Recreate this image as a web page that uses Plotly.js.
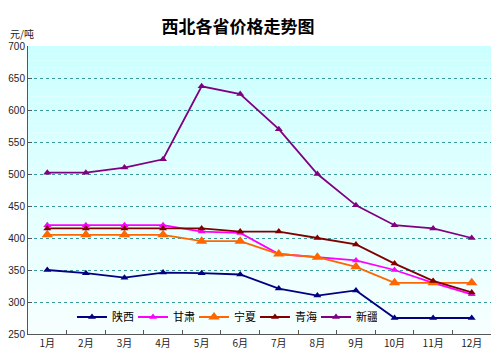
<!DOCTYPE html>
<html>
<head>
<meta charset="utf-8">
<script src="https://cdn.plot.ly/plotly-3.0.1.min.js"></script>
<style>html,body{margin:0;padding:0;background:#fff;}#chart{width:500px;height:355px;}</style>
</head>
<body>
<div id="chart"></div>
<script>
const months = ['1月','2月','3月','4月','5月','6月','7月','8月','9月','10月','11月','12月'];
const shaanxi = [350, 345, 338, 346, 345, 343, 321, 310, 318, 275, 275, 275];
const gansu   = [420, 420, 420, 420, 410, 408, 375, 370, 365, 350, 330, 312];
const ningxia = [405, 405, 405, 405, 395, 395, 375, 370, 355, 330, 330, 330];
const qinghai = [415, 415, 415, 415, 415, 410, 410, 400, 390, 360, 333, 315];
const xinjiang= [502, 502, 510, 523, 637, 625, 570, 500, 451, 420, 415, 400];
const seriesNames = ['陕西','甘肃','宁夏','青海','新疆'];
const yTicks = [250,300,350,400,450,500,550,600,650,700];

const colors = ['#000080','#FF00FF','#FF6600','#800000','#800080'];
const sizes = [7,7,10,7,7];
const data = [shaanxi, gansu, ningxia, qinghai, xinjiang].map((vals,i)=>({
  type:'scatter', mode:'lines+markers', x: months, y: vals, name: seriesNames[i],
  line:{color:colors[i], width:1.8},
  marker:{symbol:'triangle-up', size:sizes[i], color:colors[i]}
}));

// gradient background bands
const shapes = [];
const N = 40;
function lerp(a,b,t){return Math.round(a+(b-a)*t);}
for(let k=0;k<N;k++){
  const t = k/(N-1);
  const r = lerp(0xCC,0xF6,t), g = 255, b = 255;
  shapes.push({type:'rect', xref:'x domain', yref:'y domain', x0:0, x1:1,
    y0:1-(k+1)/N, y1:1-k/N, fillcolor:`rgb(${r},${g},${b})`, line:{width:0}, layer:'below'});
}

const layout = {
  width:500, height:355,
  margin:{l:28, r:9, t:46, b:21},
  paper_bgcolor:'#ffffff', plot_bgcolor:'rgba(0,0,0,0)',
  showlegend:true,
  title:{text:'西北各省价格走势图', x:0.476, xanchor:'center', y:0.924, yref:'container', yanchor:'middle',
    font:{family:'Noto Sans CJK SC', size:17, color:'#000', weight:'bold'}},
  font:{family:'Liberation Sans, Noto Sans CJK SC', size:10, color:'#222'},
  xaxis:{type:'category', range:[-0.5,11.5], tickson:'boundaries', ticks:'inside', ticklen:4,
    tickcolor:'#555', showline:true, linecolor:'#555', linewidth:1, showgrid:false, zeroline:false,
    tickfont:{family:'Noto Sans CJK SC', size:10, color:'#222'}, fixedrange:true},
  yaxis:{range:[250,700], tickvals:yTicks, ticks:'inside', ticklen:4, tickcolor:'#555',
    showline:true, linecolor:'#555', linewidth:1, showgrid:true, gridcolor:'#3a9a9a', griddash:'dot', gridwidth:1,
    zeroline:false, tickfont:{family:'Liberation Sans', size:10, color:'#222'}, fixedrange:true},
  legend:{orientation:'h', x:0.095, xanchor:'left', y:0.059, yanchor:'middle', bgcolor:'rgba(0,0,0,0)',
    font:{family:'Noto Sans CJK SC', size:11, color:'#000'}, entrywidth:16, entrywidthmode:'pixels',
    itemwidth:30, tracegroupgap:0},
  shapes: shapes,
  annotations:[{text:'元/吨', xref:'paper', yref:'paper', x:-0.013, y:1.045, xanchor:'center', yanchor:'middle',
    showarrow:false, font:{family:'Noto Sans CJK SC', size:10, color:'#222'}}]
};
Plotly.newPlot('chart', data, layout, {displayModeBar:false, staticPlot:true});
</script>
</body>
</html>
